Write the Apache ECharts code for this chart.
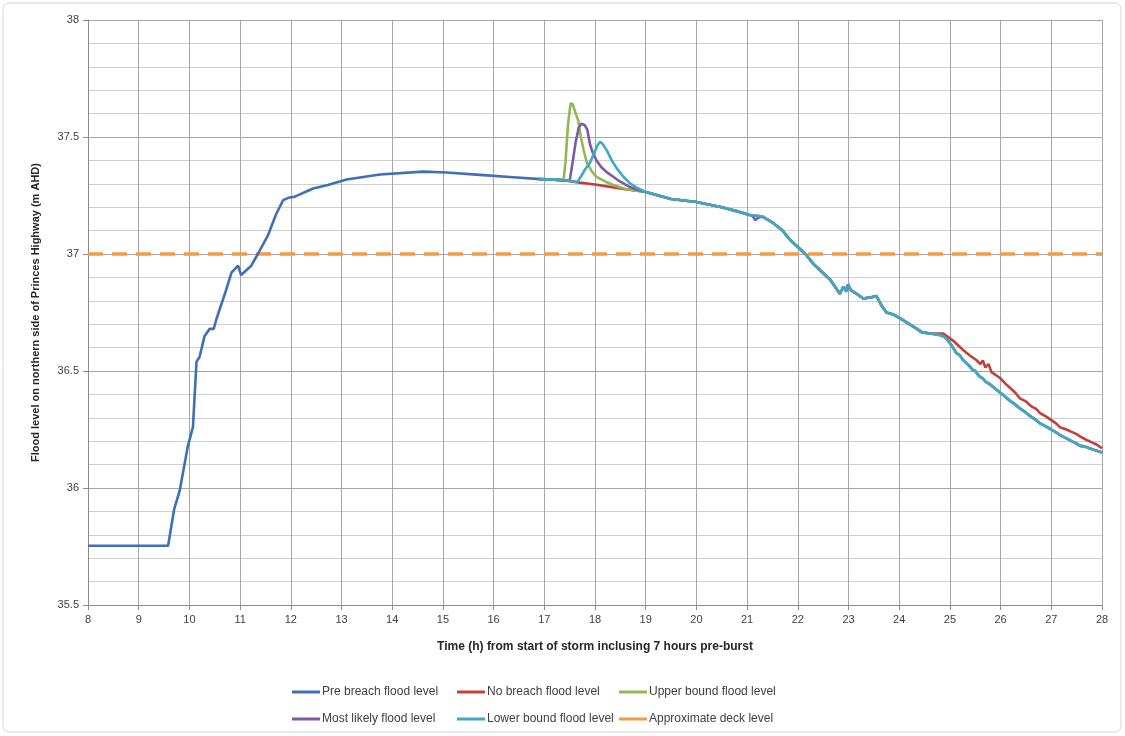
<!DOCTYPE html>
<html>
<head>
<meta charset="utf-8">
<script src="https://cdn.jsdelivr.net/npm/echarts@6/dist/echarts.min.js"></script>
<style>html,body{margin:0;padding:0;background:#fff}#c{width:1125px;height:736px}</style>
</head>
<body>
<div id="c"></div>
<script>
// ---- data (time h, level m AHD) ----
const preBreach = [
  [8,35.753],[9.58,35.753],[9.70,35.91],[9.81,35.99],[9.97,36.18],[10.07,36.26],[10.14,36.54],[10.20,36.56],
  [10.30,36.65],[10.40,36.68],[10.48,36.68],[10.53,36.72],[10.70,36.83],[10.83,36.92],[10.96,36.95],
  [11.02,36.91],[11.22,36.95],[11.35,37.00],[11.55,37.08],[11.71,37.17],[11.85,37.23],[11.95,37.24],
  [12.08,37.245],[12.44,37.28],[12.73,37.295],[13.10,37.318],[13.76,37.34],[14.61,37.352],[15.07,37.348],
  [15.73,37.338],[16.39,37.328],[16.92,37.32],[17.2,37.318],[17.4,37.314]
];
const noBreachHead = [
  [16.9,37.32],[17.2,37.318],[17.4,37.314],[17.7,37.305],[18.0,37.297],[18.3,37.287],[18.6,37.277],[18.9,37.268]
];
const upperHead = [
  [16.9,37.32],[17.2,37.318],[17.38,37.316],[17.42,37.40],[17.47,37.56],[17.52,37.645],[17.56,37.64],
  [17.62,37.60],[17.67,37.57],[17.72,37.50],[17.78,37.44],[17.84,37.39],[17.93,37.355],[18.03,37.33],
  [18.2,37.31],[18.36,37.295],[18.6,37.278],[18.9,37.268]
];
const likelyHead = [
  [16.9,37.32],[17.2,37.318],[17.5,37.313],[17.55,37.38],[17.62,37.48],[17.68,37.54],[17.73,37.557],
  [17.8,37.55],[17.85,37.53],[17.9,37.47],[17.96,37.43],[18.03,37.40],[18.13,37.37],[18.23,37.35],
  [18.36,37.33],[18.49,37.31],[18.7,37.285],[18.9,37.27]
];
const lowerHead = [
  [16.9,37.32],[17.2,37.318],[17.5,37.313],[17.65,37.308],[17.72,37.33],[17.8,37.36],[17.9,37.39],
  [17.98,37.43],[18.05,37.465],[18.1,37.48],[18.15,37.47],[18.23,37.444],[18.33,37.40],[18.43,37.366],
  [18.56,37.33],[18.69,37.302],[18.85,37.28]
];
const commonMid = [
  [19.0,37.265],[19.5,37.235],[20.0,37.222],[20.5,37.20],[20.85,37.18],[21.05,37.167],[21.3,37.16],
  [21.5,37.135],[21.7,37.10],[21.85,37.06],[22.0,37.03],[22.15,37.0],[22.31,36.957],[22.64,36.89],
  [22.83,36.83],[22.9,36.86],[22.96,36.84],[22.99,36.87],[23.05,36.845],[23.16,36.83],[23.29,36.81],
  [23.45,36.815],[23.55,36.82],[23.65,36.78],[23.75,36.75],[23.9,36.74],[24.02,36.725],[24.2,36.70],
  [24.35,36.68],[24.45,36.665],[24.61,36.66]
];
const likelyBlip = [[21.1,37.165],[21.16,37.145],[21.22,37.155]];
const noBreachTail = [
  [24.87,36.66],[25.06,36.63],[25.26,36.59],[25.4,36.565],[25.52,36.547],[25.6,36.53],[25.65,36.545],
  [25.7,36.515],[25.76,36.53],[25.82,36.495],[25.99,36.47],[26.1,36.445],[26.2,36.425],[26.3,36.405],
  [26.38,36.383],[26.5,36.37],[26.6,36.35],[26.7,36.338],[26.78,36.32],[26.9,36.305],[27.0,36.29],
  [27.1,36.275],[27.17,36.26],[27.3,36.25],[27.4,36.24],[27.5,36.23],[27.57,36.22],[27.7,36.205],
  [27.8,36.195],[27.9,36.185],[27.96,36.176],[28,36.17]
];
const lowerTail = [
  [24.80,36.654],[24.9,36.645],[25.0,36.62],[25.06,36.6],[25.13,36.576],[25.19,36.568],[25.25,36.55],
  [25.32,36.535],[25.39,36.52],[25.45,36.505],[25.5,36.5],[25.55,36.485],[25.59,36.476],[25.65,36.468],
  [25.7,36.455],[25.78,36.445],[25.85,36.433],[25.95,36.415],[26.05,36.397],[26.12,36.385],[26.2,36.37],
  [26.3,36.355],[26.38,36.34],[26.5,36.322],[26.6,36.305],[26.7,36.29],[26.78,36.276],[26.9,36.262],
  [27.0,36.25],[27.1,36.237],[27.17,36.226],[27.3,36.212],[27.4,36.2],[27.5,36.19],[27.57,36.18],
  [27.65,36.178],[27.75,36.17],[27.85,36.162],[27.96,36.155],[28,36.15]
];
const deckLevel = [[8,37.0],[28,37.0]];

const names = ['Pre breach flood level','No breach flood level','Upper bound flood level',
               'Most likely flood level','Lower bound flood level','Approximate deck level'];
const colors = ['#3F6FB5','#C0413B','#93B850','#7B5BA5','#3FA8C4','#F39A46'];

const noBreach = noBreachHead.concat(commonMid, noBreachTail);
const upper = upperHead.concat(commonMid, lowerTail);
const likely = likelyHead.concat(commonMid.filter(p => p[0] < 21.1), likelyBlip,
                                 commonMid.filter(p => p[0] > 21.22), lowerTail);
const lower = lowerHead.concat(commonMid, lowerTail);
const seriesData = [preBreach, noBreach, upper, likely, lower, deckLevel];

const chart = echarts.init(document.getElementById('c'));
const font = 'Liberation Sans, Arial, sans-serif';
const legendPos = [[287,681],[452,681],[614,681],[287,708],[452,708],[614,708]];

chart.setOption({
  animation: false,
  backgroundColor: '#fff',
  textStyle: {fontFamily: font},
  graphic: [{type:'rect', shape:{x:3,y:3,width:1118,height:729,r:6},
    style:{fill:'none', stroke:'#d4d4d4', lineWidth:1}, silent:true}],
  grid: {left: 88, right: 23, top: 20, bottom: 131},
  legend: names.map((n, i) => ({
    data: [n], left: legendPos[i][0], top: legendPos[i][1],
    itemWidth: 28, itemHeight: 3, icon: 'rect', itemGap: 2,
    textStyle: {fontSize: 12, color: '#404040', fontFamily: font, padding: [0,0,0,-3]}
  })),
  xAxis: {
    type: 'value', min: 8, max: 28, interval: 1,
    name: 'Time (h) from start of storm inclusing 7 hours pre-burst',
    nameLocation: 'middle', nameGap: 36,
    nameTextStyle: {fontSize: 12, fontWeight: 'bold', color: '#262626', fontFamily: font},
    axisLine: {show: true, lineStyle: {color: '#8c8c8c'}},
    axisTick: {show: true, length: 5, lineStyle: {color: '#8c8c8c'}},
    axisLabel: {fontSize: 11, color: '#404040', margin: 9},
    splitLine: {show: true, lineStyle: {color: '#a6a6a6', width: 1}}
  },
  yAxis: {
    type: 'value', min: 35.5, max: 38, interval: 0.5,
    name: 'Flood level on northern side of Princes Highway (m AHD)',
    nameLocation: 'middle', nameGap: 47, nameRotate: 90,
    nameTextStyle: {fontSize: 11, fontWeight: 'bold', color: '#262626', fontFamily: font},
    axisLine: {show: true, lineStyle: {color: '#8c8c8c'}},
    axisTick: {show: true, length: 5, lineStyle: {color: '#8c8c8c'}},
    axisLabel: {fontSize: 11, color: '#404040', margin: 9},
    splitLine: {show: true, lineStyle: {color: '#a6a6a6', width: 1}},
    minorTick: {show: false, splitNumber: 5},
    minorSplitLine: {show: true, lineStyle: {color: '#d0d0d0', width: 1}}
  },
  series: names.map((n, i) => ({
    name: n, type: 'line', data: seriesData[i], showSymbol: false, symbol: 'none',
    color: colors[i], z: i === 5 ? 1 : 2 + i,
    lineStyle: i === 5 ? {color: colors[i], width: 3.5, type: [15, 9]} : {color: colors[i], width: 2.6}
  }))
});
</script>
</body>
</html>
